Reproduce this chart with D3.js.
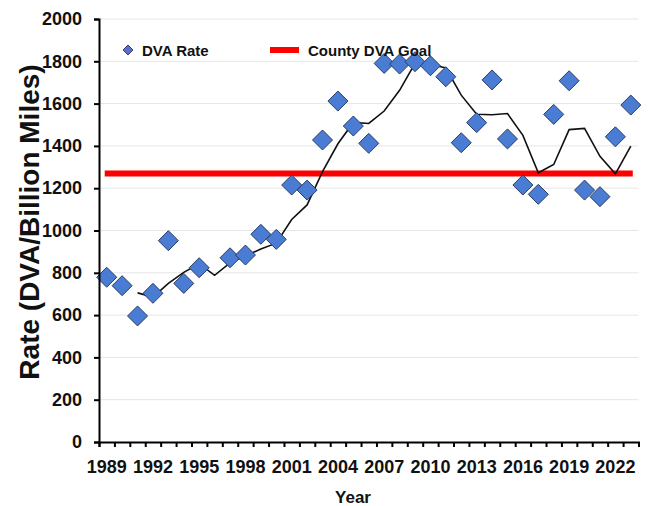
<!DOCTYPE html>
<html>
<head>
<meta charset="utf-8">
<script src="https://cdn.jsdelivr.net/npm/d3@7"></script>
<style>
  body { margin: 0; background: #fff; }
  svg { display: block; }
  text { font-family: "Liberation Sans", Arial, sans-serif; font-weight: bold; fill: #111; }
</style>
</head>
<body>
<div id="chart"></div>
<script>
const years = [
  1989, 1990, 1991, 1992, 1993, 1994, 1995, 1996, 1997, 1998, 1999, 2000,
  2001, 2002, 2003, 2004, 2005, 2006, 2007, 2008, 2009, 2010, 2011, 2012,
  2013, 2014, 2015, 2016, 2017, 2018, 2019, 2020, 2021, 2022, 2023
];

// DVA rate per billion miles (1996 has no point)
const rates = [
  779, 739, 596, 703, 952, 750, 824, null, 871, 884, 982, 958,
  1215, 1191, 1428, 1612, 1494, 1412, 1790, 1787, 1798, 1779, 1727, 1415,
  1510, 1712, 1433, 1215, 1171, 1549, 1708, 1191, 1160, 1443, 1593
];

// black trend line (starts in 1991)
const trend = [
  null, null, 705, 685, 750, 802, 843, 788, 847, 880, 912, 940,
  1052, 1121, 1278, 1410, 1511, 1506, 1565, 1663, 1790, 1786, 1768, 1640,
  1550, 1547, 1553, 1450, 1273, 1312, 1477, 1483, 1351, 1268, 1399
];

const goal = 1270;
const yTicks = [0, 200, 400, 600, 800, 1000, 1200, 1400, 1600, 1800, 2000];
const xLabels = [1989, 1992, 1995, 1998, 2001, 2004, 2007, 2010, 2013, 2016, 2019, 2022];
const legendNames = ['DVA Rate', 'County DVA Goal'];

const W = 648, H = 506;
const margin = { left: 99, right: 638.5, top: 19, bottom: 442 };
const blue = '#4a7cd3', blueStroke = '#2a3d66', red = '#ff0000';
const font = '"Liberation Sans", Arial, sans-serif';

const svg = d3.select('#chart').append('svg')
  .attr('width', W)
  .attr('height', H);

const x = d3.scaleBand()
  .domain(years)
  .range([margin.left, margin.right])
  .padding(0);

const cx = d => x(d) + x.bandwidth() / 2;

const y = d3.scaleLinear()
  .domain([0, 2000])
  .range([margin.bottom, margin.top]);

// faint gridlines
svg.append('g')
  .selectAll('line')
  .data(yTicks.slice(1))
  .join('line')
  .attr('x1', margin.left)
  .attr('x2', margin.right)
  .attr('y1', d => y(d))
  .attr('y2', d => y(d))
  .style('stroke', '#e6e6e6')
  .style('stroke-width', 1);

// goal line
svg.append('line')
  .attr('x1', cx(years[0]) - 2)
  .attr('x2', cx(years[years.length - 1]) + 2)
  .attr('y1', y(goal))
  .attr('y2', y(goal))
  .style('stroke', red)
  .style('stroke-width', 6);

// trend line
const line = d3.line()
  .defined(d => d.v !== null)
  .x(d => cx(d.year))
  .y(d => y(d.v));

svg.append('path')
  .datum(years.map((yr, i) => ({ year: yr, v: trend[i] })))
  .attr('d', line)
  .style('fill', 'none')
  .style('stroke', '#111')
  .style('stroke-width', 1.6);

// diamonds
const diamond = r => `M0,${-r}L${r},0L0,${r}L${-r},0Z`;

svg.append('g')
  .selectAll('path')
  .data(years.map((yr, i) => ({ year: yr, v: rates[i] })).filter(d => d.v !== null))
  .join('path')
  .attr('d', diamond(10))
  .attr('transform', d => `translate(${cx(d.year)},${y(d.v)})`)
  .style('fill', blue)
  .style('stroke', blueStroke)
  .style('stroke-width', 1);

// y axis
const yAxis = svg.append('g')
  .attr('transform', `translate(${margin.left},0)`)
  .call(d3.axisLeft(y).tickValues(yTicks).tickFormat(d3.format('d')).tickSize(5).tickPadding(12));
yAxis.select('.domain').style('stroke', '#000').style('stroke-width', 2);
yAxis.selectAll('.tick line').style('stroke', '#000').style('stroke-width', 2);
yAxis.selectAll('text').style('font-size', '18px').style('font-family', font).style('font-weight', 'bold').style('fill', '#111');

// x axis tick marks at category boundaries
const xb = d3.scaleLinear().domain([0, years.length]).range([margin.left, margin.right]);
const xTickAxis = svg.append('g')
  .attr('transform', `translate(0,${margin.bottom})`)
  .call(d3.axisBottom(xb).tickValues(d3.range(years.length + 1)).tickSize(5).tickFormat(''));
xTickAxis.select('.domain').style('stroke', '#000').style('stroke-width', 2);
xTickAxis.selectAll('.tick line').style('stroke', '#000').style('stroke-width', 2);

// x axis labels every third year
const xLabelAxis = svg.append('g')
  .attr('transform', `translate(0,${margin.bottom})`)
  .call(d3.axisBottom(x).tickValues(xLabels).tickSize(0).tickPadding(18));
xLabelAxis.select('.domain').remove();
xLabelAxis.selectAll('text').style('font-size', '18px').style('font-family', font).style('font-weight', 'bold').style('fill', '#111');

// axis titles
svg.append('text')
  .attr('transform', 'translate(29,222) rotate(-90)')
  .attr('text-anchor', 'middle')
  .attr('dominant-baseline', 'central')
  .style('font-size', '28px')
  .text('Rate (DVA/Billion Miles)');

svg.append('text')
  .attr('x', 353)
  .attr('y', 503)
  .attr('text-anchor', 'middle')
  .style('font-size', '17px')
  .text('Year');

// legend
const legend = svg.append('g');
legend.append('path')
  .attr('d', diamond(5))
  .attr('transform', 'translate(128,50)')
  .style('fill', '#5b6fc9')
  .style('stroke', '#3a3f7a')
  .style('stroke-width', 1);
legend.append('text')
  .attr('x', 142)
  .attr('y', 50)
  .attr('dominant-baseline', 'central')
  .style('font-size', '15px')
  .text(legendNames[0]);
legend.append('line')
  .attr('x1', 270)
  .attr('x2', 299)
  .attr('y1', 50)
  .attr('y2', 50)
  .style('stroke', red)
  .style('stroke-width', 6);
legend.append('text')
  .attr('x', 308)
  .attr('y', 50)
  .attr('dominant-baseline', 'central')
  .style('font-size', '15px')
  .text(legendNames[1]);
</script>
</body>
</html>
